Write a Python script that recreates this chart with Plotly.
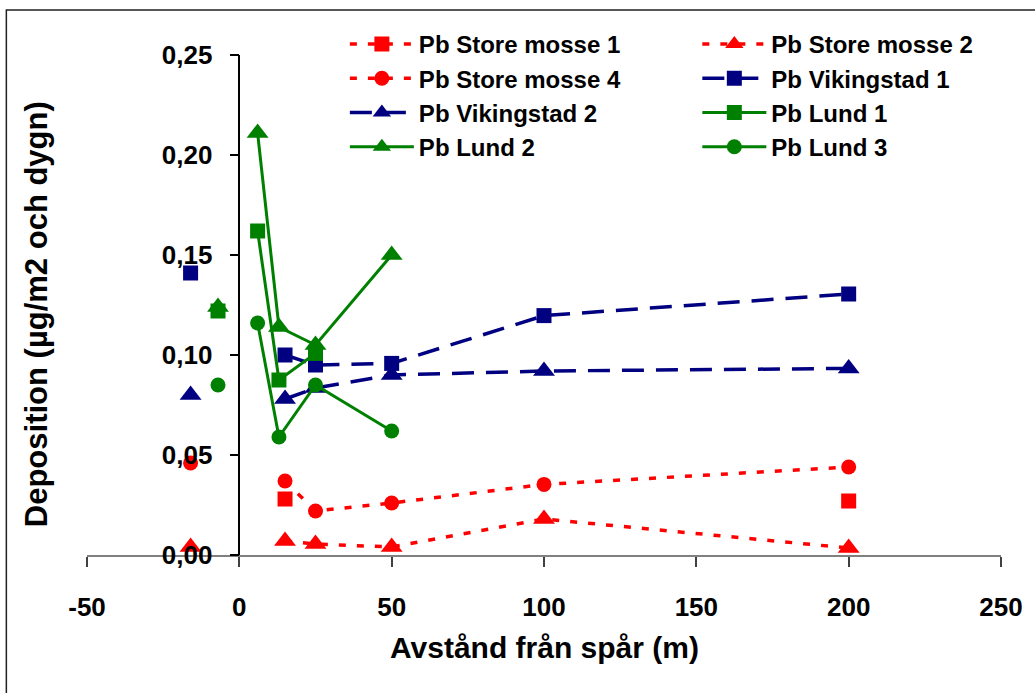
import plotly.graph_objects as go

# Distances from the track (m); the first entry of each list is on the far side
dist_sm_vik = [-16, 15, 25, 50, 100, 200]
dist_lund = [-7, 6, 13, 25, 50]

store_mosse_1 = [None, 0.028, None, None, None, 0.027]
store_mosse_2 = [0.004, 0.007, 0.0055, 0.004, 0.018, 0.0035]
store_mosse_4 = [0.046, 0.037, 0.022, 0.026, 0.0353, 0.044]
vikingstad_1 = [0.141, 0.100, 0.095, 0.0958, 0.1197, 0.1305]
vikingstad_2 = [0.080, 0.078, 0.0835, 0.090, 0.092, 0.0933]
lund_1 = [0.122, 0.162, 0.0875, 0.1008, None]
lund_2 = [0.124, 0.211, 0.114, 0.105, 0.150]
lund_3 = [0.085, 0.116, 0.059, 0.085, 0.062]

x_tick_vals = [-50, 0, 50, 100, 150, 200, 250]
x_tick_text = ["-50", "0", "50", "100", "150", "200", "250"]
y_tick_vals = [0.0, 0.05, 0.10, 0.15, 0.20, 0.25]
y_tick_text = ["0,00", "0,05", "0,10", "0,15", "0,20", "0,25"]

RED = "#FF0000"
NAVY = "#000080"
GREEN = "#008000"
FONT = "Liberation Sans, Arial, sans-serif"

styles = {
    "store": dict(color=RED, width=3.5, dash="7px,11px"),
    "vik": dict(color=NAVY, width=3.5, dash="22px,12px"),
    "lund": dict(color=GREEN, width=3),
}

series = [
    ("Pb Store mosse 1", dist_sm_vik, store_mosse_1, "store", "square", "legend"),
    ("Pb Store mosse 2", dist_sm_vik, store_mosse_2, "store", "triangle-up", "legend2"),
    ("Pb Store mosse 4", dist_sm_vik, store_mosse_4, "store", "circle", "legend"),
    ("Pb Vikingstad 1", dist_sm_vik, vikingstad_1, "vik", "square", "legend2"),
    ("Pb Vikingstad 2", dist_sm_vik, vikingstad_2, "vik", "triangle-up", "legend"),
    ("Pb Lund 1", dist_lund, lund_1, "lund", "square", "legend2"),
    ("Pb Lund 2", dist_lund, lund_2, "lund", "triangle-up", "legend"),
    ("Pb Lund 3", dist_lund, lund_3, "lund", "circle", "legend2"),
]

marker_sizes = {"square": 15, "circle": 15, "triangle-up": 19}

fig = go.Figure()
for name, xs, ys, style, symbol, legend in series:
    # the far-side point is shown on its own, not joined to the near side
    x_plot = [xs[0], None] + xs[1:]
    y_plot = [ys[0], None] + ys[1:]
    line = styles[style]
    fig.add_trace(go.Scatter(
        x=x_plot, y=y_plot, name=name, mode="lines+markers",
        line=line, connectgaps=False, cliponaxis=False,
        marker=dict(symbol=symbol, size=marker_sizes[symbol],
                    color=line["color"], line=dict(width=0)),
        legend=legend,
    ))

W, H = 1035, 693
ML, MR, MT, MB = 87, 30, 55, 138
PW, PH = W - ML - MR, H - MT - MB


def px_x(p):
    return (p - ML) / PW


def px_y(p):
    return (H - MB - p) / PH


legend_common = dict(
    font=dict(family=FONT, size=24, color="black", weight="bold"),
    bgcolor="rgba(0,0,0,0)", borderwidth=0, orientation="v",
    xanchor="left", yanchor="top", itemwidth=64, tracegroupgap=0,
)

fig.update_layout(
    width=W, height=H,
    margin=dict(l=ML, r=MR, t=MT, b=MB),
    paper_bgcolor="white", plot_bgcolor="white",
    font=dict(family=FONT, size=25, color="black", weight="bold"),
    legend=dict(x=px_x(346), y=px_y(22), **legend_common),
    legend2=dict(x=px_x(700), y=px_y(22), **legend_common),
    xaxis=dict(
        range=[-50, 250], tickvals=x_tick_vals, ticktext=x_tick_text,
        showgrid=False, zeroline=False, showline=True, linecolor="#808080",
        linewidth=2, ticks="outside", ticklen=10, tickwidth=1.5,
        tickcolor="#404040", ticklabelstandoff=18,
        tickfont=dict(size=26),
    ),
    yaxis=dict(
        range=[0, 0.25], tickvals=y_tick_vals, ticktext=y_tick_text,
        anchor="free", position=(0 - (-50)) / 300,
        showgrid=False, zeroline=False, showline=True, linecolor="black",
        linewidth=1.5, ticks="outside", ticklen=9, tickwidth=1.5,
        tickcolor="black", ticklabelstandoff=12,
        tickfont=dict(size=26),
    ),
    showlegend=True,
    annotations=[
        dict(text="Avstånd från spår (m)", xref="paper", yref="paper",
             x=0.5, y=px_y(647), xanchor="center", yanchor="middle",
             showarrow=False, font=dict(size=30)),
        dict(text="Deposition (µg/m2 och dygn)", xref="paper", yref="paper",
             x=px_x(36), y=px_y(314), xanchor="center", yanchor="middle",
             textangle=-90, showarrow=False, font=dict(size=31)),
    ],
    shapes=[
        dict(type="rect", xref="paper", yref="paper",
             x0=px_x(6), y0=px_y(10), x1=1.3, y1=-0.5,
             line=dict(color="#202020", width=1.5), fillcolor="rgba(0,0,0,0)",
             layer="below"),
    ],
)

fig.write_html("out.html")
